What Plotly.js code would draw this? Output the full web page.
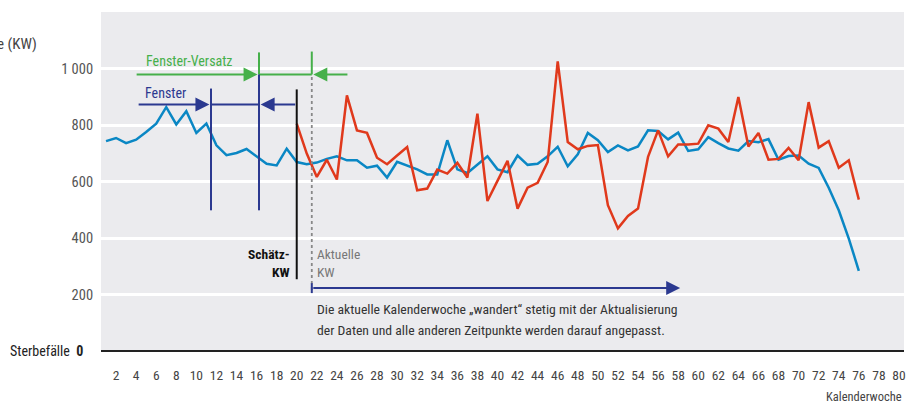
<!DOCTYPE html>
<html><head><meta charset="utf-8">
<script src="https://cdn.plot.ly/plotly-3.0.1.min.js"></script>
<style>html,body{margin:0;padding:0;background:#fff}#c{width:909px;height:403px}</style>
</head><body><div id="c"></div>
<script>
var weeksBlue = [];
for (var i = 1; i <= 76; i++) weeksBlue.push(i);
var blueValues = [743,754,736,748,775,805,863,802,849,772,805,728,693,701,715,689,663,657,716,669,
  661,667,680,689,675,675,649,656,614,670,657,643,625,625,746,643,630,660,689,643,
  633,692,659,663,689,723,654,696,772,746,704,728,710,724,781,779,749,773,708,714,
  757,736,717,709,743,739,750,677,690,692,663,648,578,498,398,284];
var weeksRed = [];
for (var j = 20; j <= 76; j++) weeksRed.push(j);
var redValues = [805,699,616,677,607,905,781,772,684,661,692,722,569,575,642,628,666,614,840,531,
  602,673,504,578,595,669,1025,740,714,726,729,516,434,478,504,687,781,689,731,731,
  734,799,787,740,899,724,772,677,680,719,675,881,720,743,649,675,536];
var xTickVals = [];
for (var k = 2; k <= 80; k += 2) xTickVals.push(k);
var yTickVals = [200,400,600,800,1000];
var yTickText = ['200','400','600','800','1 000'];

var FONT = 'Roboto Condensed, Roboto, sans-serif';
var GREEN = '#46b04a', DBLUE = '#2b3990', LBLUE = '#0a87c4', RED = '#e0391c';

var traces = [
  {x: weeksBlue, y: blueValues, type: 'scatter', mode: 'lines', line: {color: LBLUE, width: 2.5}, hoverinfo: 'skip'},
  {x: weeksRed, y: redValues, type: 'scatter', mode: 'lines', line: {color: RED, width: 2.5}, hoverinfo: 'skip'}
];

function vline(x, y0, y1, color, dash, w) {
  return {type: 'line', xref: 'x', yref: 'y', x0: x, x1: x, y0: y0, y1: y1,
    line: {color: color, width: w || 2, dash: dash || 'solid'}};
}
function hline(x0, x1, y, color, w) {
  return {type: 'line', xref: 'x', yref: 'y', x0: x0, x1: x1, y0: y, y1: y,
    line: {color: color, width: w || 2}};
}
function arrow(xh, xt, y, color) {
  return {x: xh, y: y, ax: xt, ay: y, xref: 'x', yref: 'y', axref: 'x', ayref: 'y',
    text: '', showarrow: true, arrowhead: 2, arrowsize: 1.4, arrowwidth: 2, arrowcolor: color};
}

var shapes = [
  hline(16.24, 21.5, 979, GREEN),
  vline(16.24, 979, 1057, GREEN),
  vline(21.5, 979, 1060, GREEN),
  hline(11.46, 16.24, 873, DBLUE),
  vline(11.46, 498, 929, DBLUE),
  vline(16.24, 498, 979, DBLUE),
  vline(20.0, 254, 926, '#111111'),
  vline(21.5, 216, 979, '#888888', 'dot', 1.8),
  vline(21.5, 205, 240, DBLUE, 'solid', 2)
];

var annotations = [
  arrow(16.1, 3.9, 979, GREEN),
  arrow(21.65, 25.2, 979, GREEN),
  arrow(11.3, 4.1, 873, DBLUE),
  arrow(16.4, 20.0, 873, DBLUE),
  arrow(58.2, 21.5, 223, DBLUE),
  {x: 9.36, y: 1028, xref: 'x', yref: 'y', text: 'Fenster-Versatz', showarrow: false,
    font: {family: FONT, size: 14, color: GREEN}},
  {x: 6.97, y: 912, xref: 'x', yref: 'y', text: 'Fenster', showarrow: false,
    font: {family: FONT, size: 14, color: DBLUE}},
  {x: 19.55, y: 313, xref: 'x', yref: 'y', xanchor: 'right', align: 'right', text: '<b>Schätz-</b><br><b>KW</b>', showarrow: false,
    font: {family: FONT, size: 13.5, color: '#111'}},
  {x: 21.85, y: 313, xref: 'x', yref: 'y', xanchor: 'left', align: 'left', text: 'Aktuelle<br>KW', showarrow: false,
    font: {family: FONT, size: 13.5, color: '#777'}},
  {x: 21.85, y: 148, xref: 'x', yref: 'y', xanchor: 'left', align: 'left',
    text: 'Die aktuelle Kalenderwoche „wandert“ stetig mit der Aktualisierung',
    showarrow: false, font: {family: FONT, size: 13.7, color: '#333'}},
  {x: 21.85, y: 74, xref: 'x', yref: 'y', xanchor: 'left', align: 'left',
    text: 'der Daten und alle anderen Zeitpunkte werden darauf angepasst.',
    showarrow: false, font: {family: FONT, size: 13.7, color: '#333'}},
  {x: -0.077, y: 0.937, xref: 'paper', yref: 'paper', xanchor: 'right', text: 'Sterbefälle (KW)', showarrow: false,
    font: {family: FONT, size: 15, color: '#444'}},
  {x: -0.02, y: 0, xref: 'paper', yref: 'y', xanchor: 'right', text: 'Sterbefälle  <b>0</b>', showarrow: false,
    font: {family: FONT, size: 14, color: '#222'}},
  {x: 1.0, y: -0.135, xref: 'paper', yref: 'paper', xanchor: 'right', yanchor: 'middle', text: 'Kalenderwoche', showarrow: false,
    font: {family: FONT, size: 12.5, color: '#444'}}
];

var layout = {
  width: 909, height: 403,
  margin: {l: 101, r: 5, t: 12, b: 52},
  paper_bgcolor: '#ffffff', plot_bgcolor: '#ebebee',
  showlegend: false,
  font: {family: FONT},
  xaxis: {range: [0.5, 80.5], tickvals: xTickVals, showgrid: false, zeroline: false,
    showline: false, ticks: 'outside', ticklen: 12, tickcolor: 'rgba(0,0,0,0)',
    tickfont: {family: FONT, size: 13.5, color: '#444'}, fixedrange: true},
  yaxis: {range: [0, 1200], tickvals: yTickVals, ticktext: yTickText, showgrid: true,
    gridcolor: '#ffffff', gridwidth: 3, zeroline: true, zerolinecolor: '#222', zerolinewidth: 2.5,
    showline: false, ticks: 'outside', ticklen: 4, tickcolor: 'rgba(0,0,0,0)',
    tickfont: {family: FONT, size: 14.5, color: '#555'}, fixedrange: true},
  shapes: shapes,
  annotations: annotations
};
Plotly.newPlot('c', traces, layout, {displayModeBar: false, staticPlot: true});
</script></body></html>
